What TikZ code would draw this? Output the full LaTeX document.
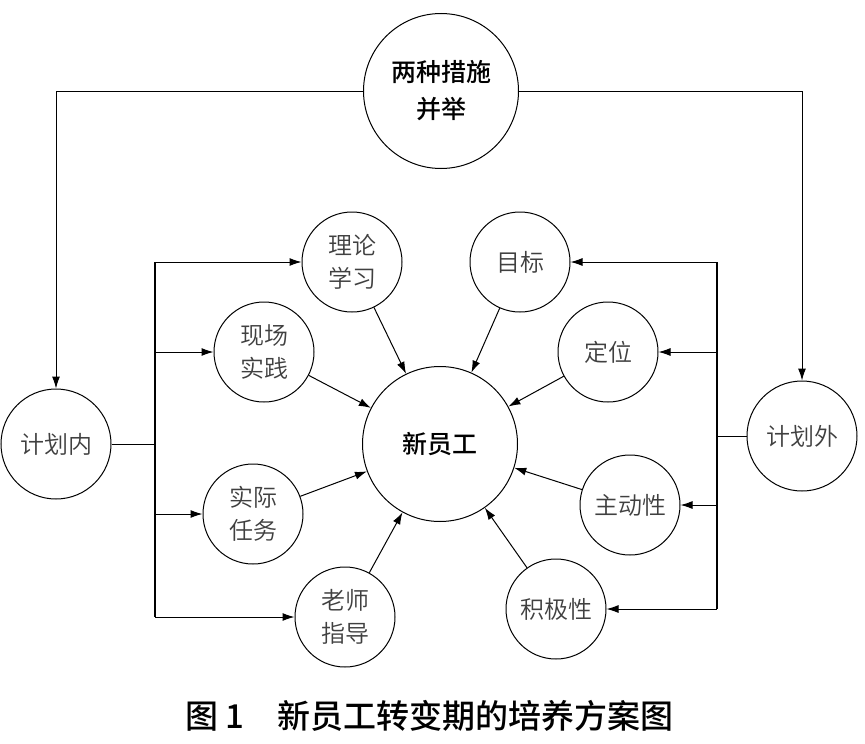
\documentclass[tikz,border=0pt]{standalone}
\usepackage{fontspec}
\newfontfamily\cjk{Noto Sans CJK SC}
\newfontfamily\cjkmed{Noto Sans CJK SC}[UprightFont=* Medium]
\newfontfamily\cjklight{Noto Sans CJK SC}[UprightFont=* DemiLight]
\usetikzlibrary{arrows.meta}
\begin{document}
\begin{tikzpicture}[x=1pt,y=-1pt,
  circ/.style={draw,circle,line width=1pt,inner sep=0pt,align=center,font=\cjklight\fontsize{24}{33}\selectfont,text=black!75},
  small/.style={circ,minimum size=100pt},
  mid/.style={circ,minimum size=110pt},
  big/.style={circ,minimum size=155pt,text=black,font=\cjkmed\fontsize{25}{37}\selectfont},
  arr/.style={line width=1pt,-{Latex[length=12pt,width=8pt]}},
  bus/.style={line width=1.6pt},
  wire/.style={line width=1pt}]
\useasboundingbox (0,0) rectangle (865,744);
\fill[white] (0,0) rectangle (865,744);
% main nodes
\node[big] (top) at (441,91) {两种措施\\并举};
\node[big] (c) at (440,444) {新员工};
\node[mid] (in) at (56,444) {计划内};
\node[mid] (out) at (802,436) {计划外};
% left small
\node[small] (l1) at (352,262) {理论\\学习};
\node[small] (l2) at (264,352) {现场\\实践};
\node[small] (l3) at (253,514) {实际\\任务};
\node[small] (l4) at (345,617) {老师\\指导};
% right small
\node[small] (r1) at (520,262) {目标};
\node[small] (r2) at (608,352) {定位};
\node[small] (r3) at (630,505) {主动性};
\node[small] (r4) at (556,609) {积极性};
% top connectors
\draw[arr] (top.west) -| (in.north);
\draw[arr] (top.east) -| (out.north);
% left bus
\coordinate (lb) at (155,444);
\draw[wire] (in.east) -- (lb);
\draw[bus] (lb |- l1.west) -- (lb |- l4.west);
\foreach \n in {l1,l2,l3,l4} \draw[arr] (lb |- \n.west) -- (\n.west);
% right bus
\coordinate (rb) at (717,436);
\draw[wire] (out.west) -- (rb);
\draw[bus] (rb |- r1.east) -- (rb |- r4.east);
\foreach \n in {r1,r2,r3,r4} \draw[arr] (rb |- \n.east) -- (\n.east);
% into centre
\foreach \n in {l1,l2,l3,l4,r1,r2,r3,r4} \draw[arr] (\n) -- (c);
% caption
\node[anchor=west,inner sep=0pt,font=\cjkmed\fontsize{33}{36}\selectfont] (cap) at (185,716) {图\hspace{7pt}1\hspace{33pt}新员工转变期的培养方案图};
\end{tikzpicture}
\end{document}
